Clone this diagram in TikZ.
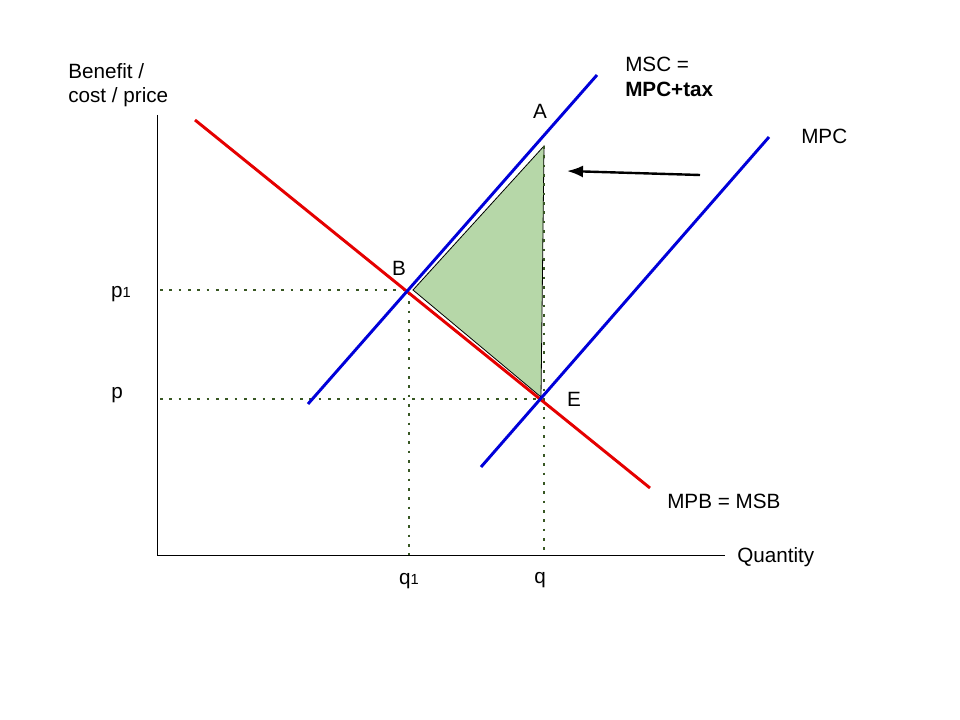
\documentclass[tikz,border=0pt]{standalone}
\usepackage{fontspec}
\setmainfont{Liberation Sans}
\usetikzlibrary{arrows.meta}
\definecolor{dgreen}{RGB}{56,87,35}
\definecolor{fillg}{RGB}{182,215,168}
\begin{document}
\begin{tikzpicture}[x=0.75pt,y=-0.75pt,
  lbl/.style={font=\fontsize{15.5}{18.5}\selectfont,inner sep=0pt},
  blueline/.style={draw=blue!85!black,line width=2.2pt},
  redline/.style={draw=red!90!black,line width=2.2pt},
  guide/.style={draw=dgreen,line width=2pt,dash pattern=on 2pt off 5pt},
  axis/.style={draw=black,line width=0.6pt}]
\useasboundingbox (0,0) rectangle (960,720);
% axes
\coordinate (o) at (157,555);
\coordinate (ytop) at (157,115);
\coordinate (xend) at (725,555);
\draw[axis] (ytop) -- (o) -- (xend);
% triangle
\coordinate (B) at (408,290);
\coordinate (A) at (544,146);
\coordinate (E) at (541,397);
\filldraw[fill=fillg,draw=black,line width=0.6pt] (413,290) -- (A) -- (E) -- cycle;
% guides
\coordinate (p1s) at (160,290);
\coordinate (ps) at (160,399);
\coordinate (q1b) at (409,555);
\coordinate (qb) at (544,555);
\draw[guide] (p1s) -- (B);
\draw[guide] (409,292) -- (q1b);
\draw[guide] (ps) -- (541,399);
\draw[guide] (A) -- (qb);
% curves
\coordinate (r1) at (195,120); \coordinate (r2) at (650,488);
\coordinate (s1) at (308,404); \coordinate (s2) at (597,75);
\coordinate (m1) at (481,467); \coordinate (m2) at (769,137);
\draw[redline] (r1) -- (r2);
\draw[blueline] (s1) -- (s2);
\draw[blueline] (m1) -- (m2);
% arrow
\coordinate (ar1) at (700,175); \coordinate (ar2) at (567,171);
\draw[-{Latex[length=12pt,width=9pt]},line width=1.8pt] (ar1) -- (ar2);
% labels
\node[lbl,anchor=west,align=left] (yl) at (68,85) {Benefit /\\cost / price};
\node[lbl] (la) at (540,111) {A};
\node[lbl] (lb) at (399,268) {B};
\node[lbl] (le) at (574,399) {E};
\node[lbl] (lp1) at (121,294) {p{\fontsize{11}{12}\selectfont 1}};
\node[lbl] (lp) at (117,395) {p};
\node[lbl] (lq1) at (409,581) {q{\fontsize{11}{12}\selectfont 1}};
\node[lbl] (lq) at (540,580) {q};
\node[lbl,anchor=west] (lqt) at (737,557) {Quantity};
\node[lbl,anchor=west] (lmpb) at (667,501) {MPB = MSB};
\node[lbl,anchor=west] (lmpc) at (801,136) {MPC};
\node[lbl,anchor=west,align=left] (lmsc) at (625,77) {MSC =\\\textbf{MPC+tax}};
\end{tikzpicture}
\end{document}
